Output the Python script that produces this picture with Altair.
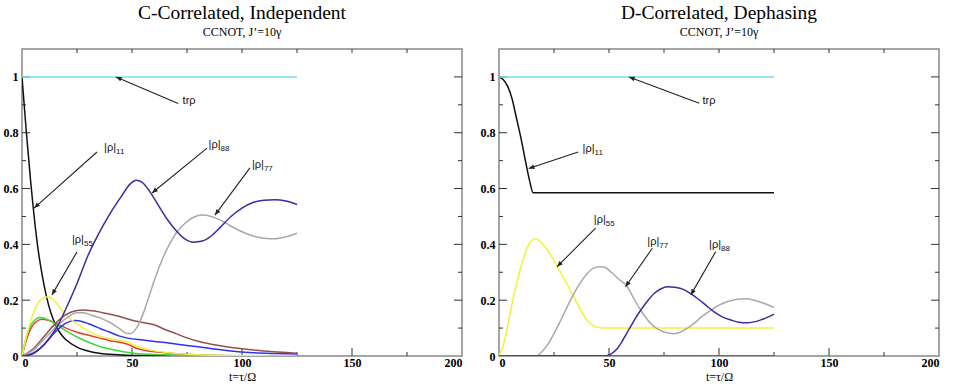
import math
import altair as alt
import pandas as pd

W, H = 440, 307
X_MAX, Y_MAX = 200, 1.1

# ---------------- C-Correlated, Independent ----------------
c_rho11_t = [0, 1, 2, 3, 4, 5, 6, 7, 8, 10, 12, 14, 16, 18, 20, 25, 30, 35, 40, 50, 125]
c_rho11 = [1.0, 0.9, 0.8, 0.71, 0.62, 0.54, 0.465, 0.4, 0.345, 0.255, 0.185, 0.135, 0.1, 0.075,
           0.058, 0.032, 0.018, 0.01, 0.006, 0.002, 0.0]

c_red_t = [0, 3, 6, 9, 12, 16, 20, 25, 30, 35, 40, 45, 48, 52, 56, 62, 70, 80, 100, 125]
c_red = [0.0, 0.08, 0.12, 0.132, 0.128, 0.115, 0.1, 0.085, 0.075, 0.065, 0.055, 0.048, 0.042,
         0.028, 0.02, 0.014, 0.008, 0.004, 0.001, 0.0]

c_green_t = [0, 2, 4, 6, 8, 10, 13, 16, 20, 25, 30, 35, 40, 45, 50, 60, 75, 125]
c_green = [0.0, 0.07, 0.11, 0.13, 0.138, 0.135, 0.125, 0.11, 0.09, 0.068, 0.05, 0.035, 0.025,
           0.017, 0.011, 0.005, 0.002, 0.0]

c_blue_t = [0, 5, 10, 15, 20, 24, 28, 32, 36, 40, 44, 48, 55, 65, 75, 85, 95, 105, 115, 125]
c_blue = [0.0, 0.01, 0.04, 0.085, 0.118, 0.127, 0.122, 0.11, 0.097, 0.085, 0.072, 0.064, 0.057,
          0.048, 0.038, 0.028, 0.018, 0.012, 0.009, 0.007]

c_rho55_t = [0, 3, 6, 9, 12, 15, 18, 21, 25, 30, 35, 40, 45, 48, 52, 58, 65, 75, 90, 125]
c_rho55 = [0.0, 0.1, 0.17, 0.205, 0.212, 0.195, 0.165, 0.14, 0.115, 0.09, 0.072, 0.062, 0.056,
           0.05, 0.035, 0.022, 0.013, 0.006, 0.002, 0.0]

c_brown_t = [0, 5, 10, 15, 20, 25, 28, 32, 38, 45, 50, 55, 60, 65, 70, 75, 80, 90, 100, 110, 125]
c_brown = [0.0, 0.025, 0.07, 0.115, 0.148, 0.163, 0.165, 0.162, 0.153, 0.14, 0.128, 0.12, 0.112,
           0.095, 0.08, 0.065, 0.053, 0.037, 0.026, 0.018, 0.01]

c_rho77_t = [0, 5, 10, 15, 20, 25, 28, 32, 36, 40, 44, 47, 49, 52, 55, 58, 61, 64, 67, 70, 74,
             78, 82, 86, 90, 95, 100, 105, 110, 115, 120, 125]
c_rho77 = [0.0, 0.02, 0.06, 0.1, 0.135, 0.155, 0.155, 0.145, 0.135, 0.12, 0.1, 0.083, 0.08, 0.1,
           0.15, 0.22, 0.29, 0.35, 0.4, 0.44, 0.475, 0.497, 0.505, 0.5, 0.488, 0.465, 0.445,
           0.43, 0.422, 0.42, 0.427, 0.44]

c_rho88_t = [0, 4, 8, 12, 16, 20, 25, 30, 35, 40, 45, 49, 52, 55, 58, 62, 66, 70, 74, 78, 82,
             86, 90, 95, 100, 105, 110, 115, 120, 125]
c_rho88 = [0.0, 0.005, 0.025, 0.06, 0.105, 0.17, 0.26, 0.36, 0.44, 0.51, 0.57, 0.615, 0.63,
           0.62, 0.59, 0.54, 0.49, 0.45, 0.42, 0.408, 0.412, 0.43, 0.46, 0.5, 0.53, 0.55, 0.558,
           0.56, 0.555, 0.543]

c_trace_t = [0, 125]
c_trace = [1.0, 1.0]

# ---------------- D-Correlated, Dephasing ----------------
d_rho11_t = [0, 2, 4, 6, 8, 10, 12, 14, 15.5, 125]
d_rho11 = [1.0, 0.99, 0.965, 0.92, 0.85, 0.78, 0.7, 0.625, 0.585, 0.585]

d_red_t = [0, 125]
d_red = [0.0, 0.0]
d_green_t = [0, 125]
d_green = [0.0, 0.0]
d_blue_t = [0, 125]
d_blue = [0.0, 0.0]
d_brown_t = [0, 125]
d_brown = [0.0, 0.0]

d_rho55_t = [0, 2, 4, 6, 8, 10, 12, 14, 16, 18, 20, 22, 24, 26.5, 30, 34, 37, 40, 43, 46, 48, 125]
d_rho55 = [0.0, 0.04, 0.11, 0.19, 0.26, 0.32, 0.37, 0.405, 0.42, 0.415, 0.4, 0.38, 0.355, 0.32,
           0.27, 0.212, 0.165, 0.128, 0.108, 0.101, 0.1, 0.1]

d_rho77_t = [0, 17, 20, 22.5, 25, 28.5, 32.5, 36, 40, 43, 46, 48, 51, 54.5, 58.3, 61, 64.4, 67.5,
             70.5, 75, 79.6, 84, 88.7, 92, 96.3, 100, 104, 108.4, 112, 116, 120, 125]
d_rho77 = [0.0, 0.0, 0.02, 0.045, 0.08, 0.135, 0.2, 0.25, 0.295, 0.315, 0.32, 0.318, 0.3, 0.275,
           0.248, 0.21, 0.164, 0.13, 0.105, 0.086, 0.08, 0.092, 0.117, 0.14, 0.164, 0.182, 0.195,
           0.203, 0.205, 0.2, 0.19, 0.174]

d_rho88_t = [0, 48, 51, 53.8, 56.5, 59.8, 62, 64.4, 67.5, 70.5, 73.5, 76.5, 80, 84, 87, 90.2, 94,
             97.8, 101.5, 105.4, 109, 113, 117, 120.6, 123, 125]
d_rho88 = [0.0, 0.0, 0.008, 0.027, 0.06, 0.105, 0.135, 0.164, 0.197, 0.224, 0.24, 0.248, 0.246,
           0.238, 0.224, 0.206, 0.182, 0.158, 0.14, 0.129, 0.121, 0.119, 0.124, 0.134, 0.142, 0.15]

d_trace_t = [0, 125]
d_trace = [1.0, 1.0]

# Series names, drawing order and line styles
series_names = ["rho11", "red", "green", "blue", "rho55", "brown", "rho77", "rho88", "trace"]
series_colors = ["#111111", "#e8402e", "#3ad83a", "#2b35f0", "#f2f23a", "#94504f", "#a9a9a9",
                 "#45279e", "#72e3ee"]
series_widths = [1.5, 1.5, 1.5, 1.5, 1.6, 1.5, 1.3, 2.0, 1.6]

# Arrow annotations: label, subscript, text anchor, arrow tail and arrow tip (data units)
c_ann_label = ["trρ", "|ρ|", "|ρ|", "|ρ|", "|ρ|"]
c_ann_sub = ["", "11", "88", "77", "55"]
c_ann_tx = [73.0, 37.3, 84.8, 104.5, 22.7]
c_ann_ty = [0.915, 0.745, 0.756, 0.684, 0.416]
c_ann_x0 = [71.0, 34.1, 84.1, 103.6, 25.0]
c_ann_y0 = [0.905, 0.731, 0.745, 0.674, 0.373]
c_ann_x1 = [42.7, 5.5, 59.1, 87.7, 13.6]
c_ann_y1 = [1.0, 0.53, 0.584, 0.505, 0.219]

d_ann_label = ["trρ", "|ρ|", "|ρ|", "|ρ|", "|ρ|"]
d_ann_sub = ["", "11", "55", "77", "88"]
d_ann_tx = [92.5, 38.0, 43.1, 67.4, 95.5]
d_ann_ty = [0.915, 0.74, 0.487, 0.41, 0.398]
d_ann_x0 = [91.0, 36.0, 43.9, 69.7, 98.5]
d_ann_y0 = [0.906, 0.731, 0.458, 0.386, 0.374]
d_ann_x1 = [59.1, 13.5, 26.4, 57.5, 87.2]
d_ann_y1 = [1.0, 0.672, 0.32, 0.248, 0.219]

# Frame tick positions
x_major_ticks = [50, 100, 150]
x_minor_ticks = [25, 75, 125, 175]
y_major_ticks = [0.2, 0.4, 0.6, 0.8, 1.0]
y_minor_ticks = [0.1, 0.3, 0.5, 0.7, 0.9]


def long_table(pairs):
    rows = []
    for order, (name, ts, vs) in enumerate(pairs):
        for t, v in zip(ts, vs):
            rows.append({"series": name, "t": t, "v": v, "k": order})
    return pd.DataFrame(rows)


def ann_table(label, sub, tx, ty, x0, y0, x1, y1):
    kx, ky = W / X_MAX, H / Y_MAX
    df = pd.DataFrame({"label": label, "sub": sub, "tx": tx, "ty": ty,
                       "x0": x0, "y0": y0, "x1": x1, "y1": y1})
    df["ang"] = [
        math.degrees(math.atan2((b - a) * kx, (d - c) * ky)) % 360
        for a, b, c, d in zip(df.x0, df.x1, df.y0, df.y1)
    ]
    return df


x_scale = alt.Scale(domain=[0, X_MAX], nice=False, zero=False)
y_scale = alt.Scale(domain=[0, Y_MAX], nice=False, zero=False)
x_axis = alt.Axis(values=[0, 50, 100, 150, 200], format="d", title="t=τ/Ω",
                  labelPadding=1, titlePadding=3)
y_axis = alt.Axis(values=[0, 0.2, 0.4, 0.6, 0.8, 1.0], format="~g", title=None, labelPadding=4)

ARROW = "M0,0L0.42,1L-0.42,1Z"


def panel(lines_df, ann_df, title):
    def X(field):
        return alt.X(field, type="quantitative", scale=x_scale, axis=x_axis)

    def Y(field):
        return alt.Y(field, type="quantitative", scale=y_scale, axis=y_axis)

    lines = alt.Chart(lines_df).mark_line(interpolate="monotone", clip=True).encode(
        x=X("t"), y=Y("v"),
        color=alt.Color("series:N", scale=alt.Scale(domain=series_names, range=series_colors),
                        legend=None),
        strokeWidth=alt.StrokeWidth("series:N",
                                    scale=alt.Scale(domain=series_names, range=series_widths),
                                    legend=None),
        order=alt.Order("k:Q"),
    )

    tick_color = "#333333"
    xt_major = pd.DataFrame({"t": x_major_ticks})
    xt_minor = pd.DataFrame({"t": x_minor_ticks})
    xt_all = pd.DataFrame({"t": x_major_ticks + x_minor_ticks})
    yt_major = pd.DataFrame({"v": y_major_ticks})
    yt_minor = pd.DataFrame({"v": y_minor_ticks})

    ticks = [
        alt.Chart(xt_major).mark_rule(color=tick_color).encode(
            x=X("t"), y=alt.value(H), y2=alt.value(H - 8)),
        alt.Chart(xt_minor).mark_rule(color=tick_color).encode(
            x=X("t"), y=alt.value(H), y2=alt.value(H - 4)),
        alt.Chart(xt_all).mark_rule(color=tick_color).encode(
            x=X("t"), y=alt.value(0), y2=alt.value(4)),
        alt.Chart(yt_major).mark_rule(color=tick_color).encode(
            y=Y("v"), x=alt.value(0), x2=alt.value(8)),
        alt.Chart(yt_minor).mark_rule(color=tick_color).encode(
            y=Y("v"), x=alt.value(0), x2=alt.value(4)),
        alt.Chart(yt_major).mark_rule(color=tick_color).encode(
            y=Y("v"), x=alt.value(W), x2=alt.value(W - 8)),
        alt.Chart(yt_minor).mark_rule(color=tick_color).encode(
            y=Y("v"), x=alt.value(W), x2=alt.value(W - 4)),
    ]

    arrows = alt.Chart(ann_df).mark_rule(color="#222222", strokeWidth=1.1).encode(
        x=X("x0"), y=Y("y0"), x2="x1", y2="y1")
    heads = alt.Chart(ann_df).mark_point(shape=ARROW, filled=True, size=130, color="#222222",
                                         opacity=1).encode(
        x=X("x1"), y=Y("y1"), angle=alt.Angle("ang:Q", scale=None))
    labels = alt.Chart(ann_df).mark_text(align="left", baseline="middle", font="Liberation Sans",
                                         fontSize=11, color="#111111").encode(
        x=X("tx"), y=Y("ty"), text="label:N")
    subs = alt.Chart(ann_df).mark_text(align="left", baseline="middle", font="Liberation Sans",
                                       fontSize=8, dx=12, dy=4, color="#111111").encode(
        x=X("tx"), y=Y("ty"), text="sub:N")

    return alt.layer(*ticks, lines, arrows, heads, labels, subs).properties(
        width=W, height=H,
        title=alt.TitleParams(text=title, subtitle="CCNOT, J’=10γ"),
    )


c_lines = long_table([
    ("rho11", c_rho11_t, c_rho11), ("red", c_red_t, c_red), ("green", c_green_t, c_green),
    ("blue", c_blue_t, c_blue), ("rho55", c_rho55_t, c_rho55), ("brown", c_brown_t, c_brown),
    ("rho77", c_rho77_t, c_rho77), ("rho88", c_rho88_t, c_rho88), ("trace", c_trace_t, c_trace),
])
d_lines = long_table([
    ("rho11", d_rho11_t, d_rho11), ("green", d_green_t, d_green), ("blue", d_blue_t, d_blue),
    ("brown", d_brown_t, d_brown), ("red", d_red_t, d_red), ("rho55", d_rho55_t, d_rho55),
    ("rho77", d_rho77_t, d_rho77), ("rho88", d_rho88_t, d_rho88), ("trace", d_trace_t, d_trace),
])

c_ann = ann_table(c_ann_label, c_ann_sub, c_ann_tx, c_ann_ty, c_ann_x0, c_ann_y0, c_ann_x1, c_ann_y1)
d_ann = ann_table(d_ann_label, d_ann_sub, d_ann_tx, d_ann_ty, d_ann_x0, d_ann_y0, d_ann_x1, d_ann_y1)

left = panel(c_lines, c_ann, "C-Correlated, Independent")
right = panel(d_lines, d_ann, "D-Correlated, Dephasing")

chart = alt.hconcat(left, right, spacing=15).properties(
    padding={"left": 2, "top": 2, "right": 5, "bottom": 0},
    background="white",
).configure_view(
    stroke="#888888", strokeWidth=1.5,
).configure_axis(
    labelFont="Liberation Serif", labelFontWeight="bold", labelFontSize=12, labelColor="black",
    titleFont="Liberation Serif", titleFontWeight="normal", titleFontSize=12, titleColor="black",
    ticks=False, domain=False, grid=False,
).configure_title(
    font="Liberation Serif", fontSize=19.5, fontWeight="normal", color="black",
    subtitleFont="Liberation Serif", subtitleFontSize=12, subtitleColor="black",
    anchor="middle", frame="group", offset=10, subtitlePadding=3,
)

chart.save("out.html", embed_options={"renderer": "svg", "actions": False})
